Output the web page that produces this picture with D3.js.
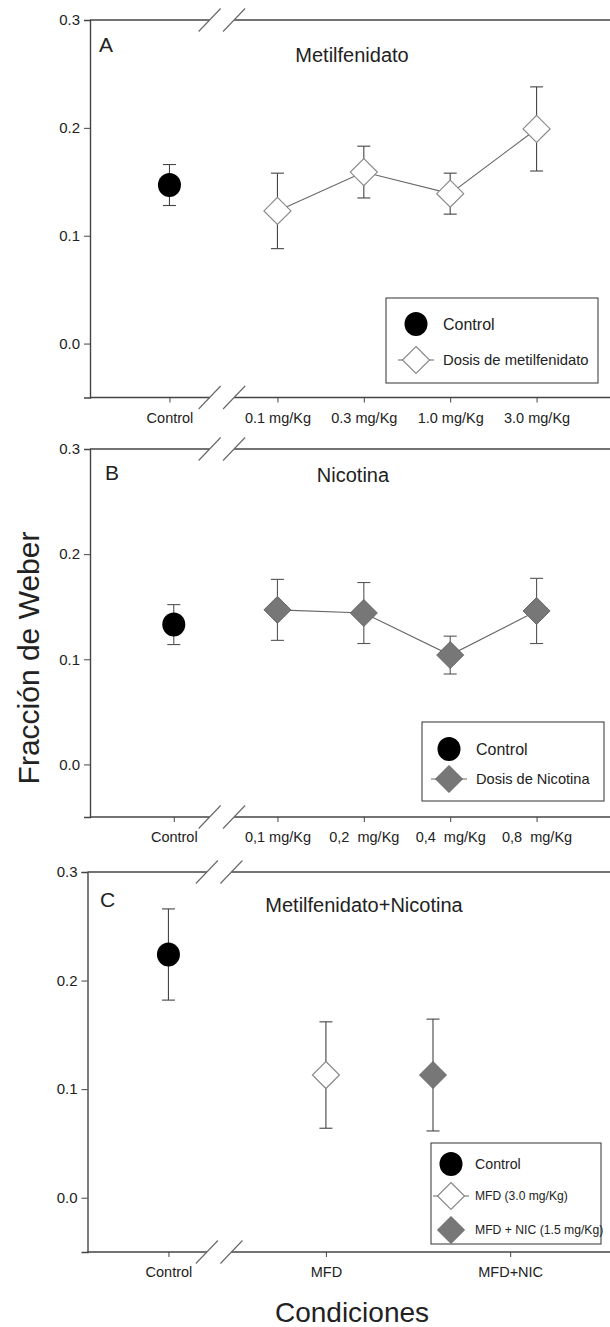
<!DOCTYPE html>
<html><head><meta charset="utf-8">
<script src="https://cdn.jsdelivr.net/npm/d3@7"></script>
<style>
body{margin:0;background:#fff;}
svg{display:block;font-family:"Liberation Sans",Arial,sans-serif;}
text{fill:#222;white-space:pre;}
</style></head>
<body><svg id="c" width="610" height="1327"></svg>
<script>
// ---------- data ----------
const yTicks = [0.0, 0.1, 0.2, 0.3];
const yTickLabels = ["0.0", "0.1", "0.2", "0.3"];

const catsA = ["Control", "0.1 mg/Kg", "0.3 mg/Kg", "1.0 mg/Kg", "3.0 mg/Kg"];
const posA = [-0.25, 1, 2, 3, 4];
const meanA = [0.147, 0.123, 0.159, 0.139, 0.199];
const errA = [0.019, 0.035, 0.024, 0.019, 0.039];

const catsB = ["Control", "0,1 mg/Kg", "0,2  mg/Kg", "0,4  mg/Kg", "0,8  mg/Kg"];
const posB = [-0.2, 1, 2, 3, 4];
const meanB = [0.133, 0.147, 0.144, 0.104, 0.146];
const errB = [0.019, 0.029, 0.029, 0.018, 0.031];

const catsC = ["Control", "MFD", "MFD+NIC"];
const tickPosC = [0, 1, 2.17];
const pointPosC = [0, 1, 1.68];
const meanC = [0.224, 0.113, 0.113];
const errC = [0.042, 0.049, 0.0515];

// ---------- style ----------
const BLACK = "#000", GREY = "#777", AX = "#444";

const svg = d3.select("#c");

function diamond(h){ return `M0,${-h}L${h},0L0,${h}L${-h},0Z`; }

function drawMarker(g, type, x, y){
  if(type === "circle"){
    g.append("ellipse").attr("cx", x).attr("cy", y).attr("rx", 11.5).attr("ry", 12)
      .attr("fill", BLACK);
  } else if(type === "open"){
    g.append("path").attr("d", diamond(13.5)).attr("transform", `translate(${x},${y})`)
      .attr("fill", "#fff").attr("stroke", "#8a8a8a").attr("stroke-width", 1.2);
  } else {
    g.append("path").attr("d", diamond(13.5)).attr("transform", `translate(${x},${y})`)
      .attr("fill", GREY).attr("stroke", "#666").attr("stroke-width", 1);
  }
}

function panel(cfg){
  const g = svg.append("g");
  const x = d3.scaleLinear().domain(cfg.xDomain).range([cfg.left, 610]);
  const y = d3.scaleLinear().domain([-0.05, 0.3]).range([cfg.bottom, cfg.top]);

  // y axis
  const ya = g.append("g").attr("transform", `translate(${cfg.left},0)`)
    .call(d3.axisLeft(y).tickValues(yTicks).tickFormat((d,i)=>yTickLabels[i]).tickSize(6).tickPadding(4));
  ya.select(".domain").attr("stroke", AX).attr("stroke-width", 1.4);
  ya.selectAll(".tick line").attr("stroke", AX);
  ya.selectAll(".tick text").attr("font-size", 15).attr("fill", "#222")
    .attr("font-family", "Liberation Sans, Arial, sans-serif");

  // x axis
  const xa = g.append("g").attr("transform", `translate(0,${cfg.bottom})`)
    .call(d3.axisBottom(x).tickValues(cfg.tickPos).tickFormat((d,i)=>cfg.cats[i]).tickSize(5).tickPadding(10));
  xa.select(".domain").remove();
  xa.selectAll(".tick line").attr("stroke", AX);
  xa.selectAll(".tick text").attr("font-size", 14.5).attr("fill", "#222")
    .attr("font-family", "Liberation Sans, Arial, sans-serif").style("white-space", "pre");

  // top and bottom frame lines with break
  const b1 = x(cfg.brk[0]), b2 = x(cfg.brk[1]);
  [cfg.top, cfg.bottom].forEach(yy => {
    g.append("line").attr("x1", cfg.left).attr("x2", b1).attr("y1", yy).attr("y2", yy)
      .attr("stroke", AX).attr("stroke-width", 1.4);
    g.append("line").attr("x1", b2).attr("x2", 610).attr("y1", yy).attr("y2", yy)
      .attr("stroke", AX).attr("stroke-width", 1.4);
    [b1, b2].forEach(bx => {
      g.append("line").attr("x1", bx - 11).attr("y1", yy + 11.5).attr("x2", bx + 11).attr("y2", yy - 11.5)
        .attr("stroke", "#666").attr("stroke-width", 1.1);
    });
  });

  // error bars
  const errCol = cfg.errColor;
  cfg.mean.forEach((m, i) => {
    const px = x(cfg.pointPos[i]);
    const e = cfg.err[i];
    g.append("line").attr("x1", px).attr("x2", px).attr("y1", y(m + e)).attr("y2", y(m - e))
      .attr("stroke", errCol).attr("stroke-width", 1.1);
    [m + e, m - e].forEach(v => {
      g.append("line").attr("x1", px - 6.5).attr("x2", px + 6.5).attr("y1", y(v)).attr("y2", y(v))
        .attr("stroke", errCol).attr("stroke-width", 1.1);
    });
  });

  // connecting line
  if(cfg.lineIdx){
    const pts = cfg.lineIdx.map(i => [x(cfg.pointPos[i]), y(cfg.mean[i])]);
    g.append("path").attr("d", d3.line()(pts)).attr("fill", "none")
      .attr("stroke", "#666").attr("stroke-width", 1.1);
  }

  // markers
  cfg.mean.forEach((m, i) => drawMarker(g, cfg.markers[i], x(cfg.pointPos[i]), y(m)));

  // letter & title
  g.append("text").attr("x", cfg.letterX).attr("y", cfg.top + cfg.letterDy)
    .attr("font-size", 21).text(cfg.letter);
  g.append("text").attr("x", cfg.titleX).attr("y", cfg.top + cfg.titleDy)
    .attr("text-anchor", "middle").attr("font-size", 20).text(cfg.title);

  // legend
  const L = cfg.legend;
  g.append("rect").attr("x", L.x).attr("y", L.y).attr("width", L.w).attr("height", L.h)
    .attr("fill", "#fff").attr("stroke", AX).attr("stroke-width", 1.1);
  L.items.forEach(it => {
    if(it.type !== "circle" && it.type !== "filledNoLine"){
      g.append("line").attr("x1", L.mx - 18).attr("x2", L.mx + 18).attr("y1", it.y).attr("y2", it.y)
        .attr("stroke", "#666").attr("stroke-width", 1.1);
    }
    drawMarker(g, it.type === "filledNoLine" ? "filled" : it.type, L.mx, it.y);
    g.append("text").attr("x", L.tx).attr("y", it.y).attr("dy", "0.36em")
      .attr("font-size", it.fs).text(it.label);
  });
}

panel({
  left: 90, top: 20, bottom: 397.5, xDomain: [-1.17, 4.85],
  cats: catsA, tickPos: posA, pointPos: posA, mean: meanA, err: errA,
  markers: ["circle", "open", "open", "open", "open"], lineIdx: [1, 2, 3, 4],
  errColor: "#444", brk: [0.215, 0.498],
  letter: "A", letterX: 99, letterDy: 32, title: "Metilfenidato", titleX: 352, titleDy: 42,
  legend: {x: 386, y: 298, w: 212, h: 85, mx: 416, tx: 443, items: [
    {type: "circle", y: 324, label: "Control", fs: 16},
    {type: "open", y: 360, label: "Dosis de metilfenidato", fs: 14.8}
  ]}
});

panel({
  left: 90, top: 449, bottom: 817, xDomain: [-1.17, 4.85],
  cats: catsB, tickPos: posB, pointPos: posB, mean: meanB, err: errB,
  markers: ["circle", "filled", "filled", "filled", "filled"], lineIdx: [1, 2, 3, 4],
  errColor: "#555", brk: [0.215, 0.498],
  letter: "B", letterX: 105, letterDy: 31, title: "Nicotina", titleX: 353, titleDy: 33,
  legend: {x: 422, y: 722, w: 182, h: 79, mx: 449, tx: 476, items: [
    {type: "circle", y: 749, label: "Control", fs: 16},
    {type: "filled", y: 779, label: "Dosis de Nicotina", fs: 14.6}
  ]}
});

panel({
  left: 87.5, top: 872, bottom: 1252, xDomain: [-0.514, 2.804],
  cats: catsC, tickPos: tickPosC, pointPos: pointPosC, mean: meanC, err: errC,
  markers: ["circle", "open", "filled"], lineIdx: null,
  errColor: "#444", brk: [0.244, 0.4],
  letter: "C", letterX: 100, letterDy: 35, title: "Metilfenidato+Nicotina", titleX: 364, titleDy: 40,
  legend: {x: 431, y: 1143, w: 170, h: 101, mx: 451, tx: 475, items: [
    {type: "circle", y: 1164, label: "Control", fs: 14.2},
    {type: "open", y: 1196, label: "MFD (3.0 mg/Kg)", fs: 12.1},
    {type: "filledNoLine", y: 1230, label: "MFD + NIC (1.5 mg/Kg)", fs: 12.2}
  ]}
});

// axis titles
svg.append("text").attr("transform", "translate(39,658) rotate(-90)")
  .attr("text-anchor", "middle").attr("font-size", 30).text("Fracción de Weber");
svg.append("text").attr("x", 352).attr("y", 1322).attr("text-anchor", "middle")
  .attr("font-size", 28).text("Condiciones");
</script></body></html>
